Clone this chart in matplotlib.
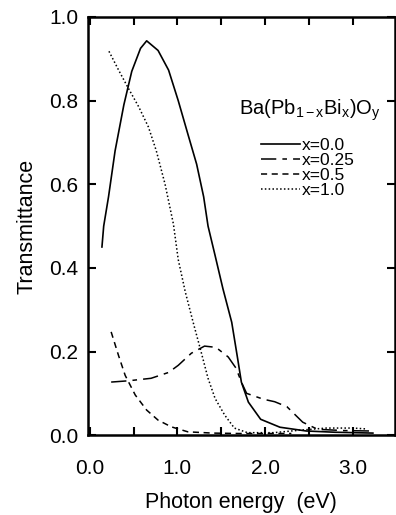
import matplotlib.pyplot as plt
from matplotlib.ticker import MultipleLocator

plt.rcParams['font.family'] = ['Liberation Sans', 'DejaVu Sans']
plt.rcParams['mathtext.fontset'] = 'custom'
plt.rcParams['mathtext.rm'] = 'Liberation Sans'
plt.rcParams['mathtext.it'] = 'Liberation Sans'

# ---- data (photon energy in eV, transmittance)
e_x00 = [0.14, 0.16, 0.215, 0.29, 0.39, 0.48, 0.58, 0.65, 0.78, 0.90, 1.01, 1.12, 1.22, 1.30, 1.35, 1.43, 1.52, 1.62, 1.69, 1.73, 1.81, 1.95, 2.17, 2.47, 2.80, 3.23]
t_x00 = [0.45, 0.50, 0.57, 0.68, 0.79, 0.87, 0.925, 0.943, 0.92, 0.873, 0.80, 0.72, 0.648, 0.57, 0.50, 0.43, 0.35, 0.27, 0.18, 0.127, 0.079, 0.038, 0.019, 0.01, 0.007, 0.005]

e_x025 = [0.245, 0.44, 0.70, 0.90, 1.01, 1.16, 1.31, 1.44, 1.58, 1.67, 1.73, 1.79, 1.98, 2.11, 2.25, 2.43, 2.60, 2.90, 3.20]
t_x025 = [0.127, 0.13, 0.136, 0.15, 0.167, 0.196, 0.213, 0.21, 0.187, 0.16, 0.127, 0.10, 0.086, 0.08, 0.068, 0.031, 0.014, 0.011, 0.01]

e_x05 = [0.245, 0.33, 0.405, 0.52, 0.65, 0.78, 0.93, 1.12, 1.40, 1.70, 2.00, 2.30]
t_x05 = [0.247, 0.19, 0.143, 0.096, 0.06, 0.036, 0.02, 0.008, 0.005, 0.004, 0.004, 0.004]

e_x10 = [0.22, 0.33, 0.44, 0.56, 0.67, 0.76, 0.86, 0.955, 1.01, 1.09, 1.18, 1.27, 1.35, 1.43, 1.54, 1.65, 1.80, 2.10, 2.40, 2.70, 3.00, 3.15]
t_x10 = [0.918, 0.873, 0.83, 0.785, 0.737, 0.68, 0.60, 0.505, 0.42, 0.343, 0.27, 0.20, 0.136, 0.088, 0.048, 0.017, 0.006, 0.006, 0.012, 0.017, 0.017, 0.015]

labels = ['x=0.0', 'x=0.25', 'x=0.5', 'x=1.0']

fig = plt.figure(figsize=(3.96, 5.15), dpi=100)
ax = fig.add_axes([0.222, 0.155, 0.775, 0.812])

ax.plot(e_x00, t_x00, color='black', lw=1.2, ls='-', label=labels[0])
ax.plot(e_x025, t_x025, color='black', lw=1.1, dashes=(10, 4, 3, 4), label=labels[1])
ax.plot(e_x05, t_x05, color='black', lw=1.1, dashes=(4, 3), label=labels[2])
ax.plot(e_x10, t_x10, color='black', lw=1.1, dashes=(1, 1.5), label=labels[3])

ax.set_xlim(-0.02, 3.48)
ax.set_ylim(0, 1.0)
ax.xaxis.set_major_locator(MultipleLocator(1.0))
ax.xaxis.set_minor_locator(MultipleLocator(0.5))
ax.yaxis.set_major_locator(MultipleLocator(0.2))
ax.xaxis.set_major_formatter(plt.FuncFormatter(lambda v, p: '%.1f' % v))
ax.yaxis.set_major_formatter(plt.FuncFormatter(lambda v, p: '%.1f' % v))
ax.tick_params(which='both', direction='in', top=True, right=True, width=1.5, length=6, labelsize=15)
ax.tick_params(axis='x', pad=17)
ax.tick_params(axis='y', pad=7)
for s in ax.spines.values():
    s.set_linewidth(1.8)

ax.set_xlabel('Photon energy  (eV)', fontsize=15.5, labelpad=10)
ax.set_ylabel('Transmittance', fontsize=15.5, labelpad=8)

ax.text(0.955, 0.778, r'Ba(Pb$_{\mathrm{1-x}}$Bi$_{\mathrm{x}}$)O$_{\mathrm{y}}$', transform=ax.transAxes,
        ha='right', va='center', fontsize=14.5)

ax.legend(loc='upper left', bbox_to_anchor=(0.565, 0.712), frameon=False, fontsize=12.5,
          handlelength=2.2, handletextpad=0.15, labelspacing=0.0, borderpad=0, borderaxespad=0)

fig.savefig('out.png', dpi=100)
